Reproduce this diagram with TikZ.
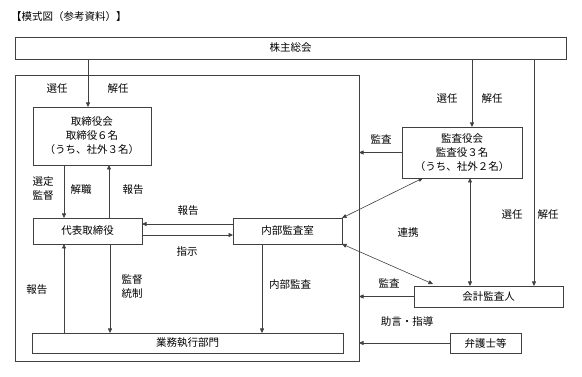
\documentclass[tikz,border=0pt]{standalone}
\usepackage{fontspec}
\setmainfont{Noto Sans CJK JP}
\usepackage{tikz}
\usetikzlibrary{arrows.meta,calc}
\tikzset{
  box/.style={draw=black!75, line width=0.6pt, inner sep=0pt, outer sep=0pt, align=center},
  arr/.style={-{Triangle[length=4.5pt,width=4pt]}, line width=0.6pt, black!75},
  darr/.style={{Triangle[length=4.5pt,width=4pt]}-{Triangle[length=4.5pt,width=4pt]}, line width=0.6pt, black!75},
  lbl/.style={inner sep=0pt, align=left},
}

\begin{document}
\begin{tikzpicture}[x=1pt,y=-1pt,font=\fontsize{10.5pt}{14pt}\selectfont]
  \useasboundingbox (0,0) rectangle (582,377);
  \node[lbl,anchor=west] (title) at (11,17) {【模式図（参考資料）】};

  \node[box, minimum width=551, minimum height=22] (gm) at (290.5,48) {株主総会};
  \node[box, minimum width=344, minimum height=286] (corp) at (187,218) {};
  \node[box, minimum width=118, minimum height=58] (bod) at (92,136) {取締役会\\取締役６名\\（うち、社外３名）};
  \node[box, minimum width=109, minimum height=26] (ceo) at (87.5,231) {代表取締役};
  \node[box, minimum width=109, minimum height=26] (ia) at (287.5,231) {内部監査室};
  \node[box, minimum width=311, minimum height=20] (ops) at (187.5,343) {業務執行部門};
  \node[box, minimum width=120, minimum height=51] (kan) at (462,152.5) {監査役会\\監査役３名\\（うち、社外２名）};
  \node[box, minimum width=149, minimum height=21] (acc) at (488.5,296.5) {会計監査人};
  \node[box, minimum width=71, minimum height=20] (law) at (485.5,343) {弁護士等};

  \draw[arr] ([xshift=-4]bod.north |- gm.south) -- ([xshift=-4]bod.north);
  \draw[arr] ([xshift=10]kan.north |- gm.south) -- ([xshift=10]kan.north);
  \draw[arr] ([xshift=45.5]acc.north |- gm.south) -- ([xshift=45.5]acc.north);
  \draw[darr] ([xshift=8]kan.south) -- ([xshift=8]kan.south |- acc.north);
  \draw[arr] (kan.west) -- (kan.west -| corp.east);
  \draw[darr] ([xshift=-39]kan.south) -- (ia.north east);
  \draw[darr] (ia.south east) -- ([xshift=-55.5,yshift=2]acc.north);
  \draw[arr] (acc.west) -- (acc.west -| corp.east);
  \draw[arr] (law.west) -- (law.west -| corp.east);

  \draw[arr] ([xshift=-23.5]ceo.north |- bod.south) -- ([xshift=-23.5]ceo.north);
  \draw[arr] ([xshift=21.5]ceo.north) -- ([xshift=21.5]ceo.north |- bod.south);
  \draw[arr] ([yshift=7]ia.west) -- ([yshift=7]ia.west -| ceo.east);
  \draw[arr] ([yshift=-4]ceo.east) -- ([yshift=-4]ceo.east -| ia.west);
  \draw[arr] ([xshift=-23.5]ceo.south |- ops.north) -- ([xshift=-23.5]ceo.south);
  \draw[arr] ([xshift=22.5]ceo.south) -- ([xshift=22.5]ceo.south |- ops.north);
  \draw[arr] ([xshift=-25.5]ia.south) -- ([xshift=-25.5]ia.south |- ops.north);

  \node[lbl] (l-sen1) at (57,89) {選任};
  \node[lbl] (l-kai1) at (118,89) {解任};
  \node[lbl] (l-sen2) at (447,99) {選任};
  \node[lbl] (l-kai2) at (492,99) {解任};
  \node[lbl] (l-kan1) at (381,139) {監査};
  \node[lbl] (l-sentei) at (43,189) {選定\\監督};
  \node[lbl] (l-kaishoku) at (81,190) {解職};
  \node[lbl] (l-hou1) at (133,190) {報告};
  \node[lbl] (l-hou2) at (188,211) {報告};
  \node[lbl] (l-shiji) at (187,252) {指示};
  \node[lbl] (l-renkei) at (408,233) {連携};
  \node[lbl] (l-sen3) at (512,215) {選任};
  \node[lbl] (l-kai3) at (548,215) {解任};
  \node[lbl] (l-hou3) at (37,290) {報告};
  \node[lbl] (l-tousei) at (132,287) {監督\\統制};
  \node[lbl] (l-naibu) at (290,285) {内部監査};
  \node[lbl] (l-kan2) at (389,283) {監査};
  \node[lbl] (l-jogen) at (407,322) {助言・指導};
\end{tikzpicture}
\end{document}
